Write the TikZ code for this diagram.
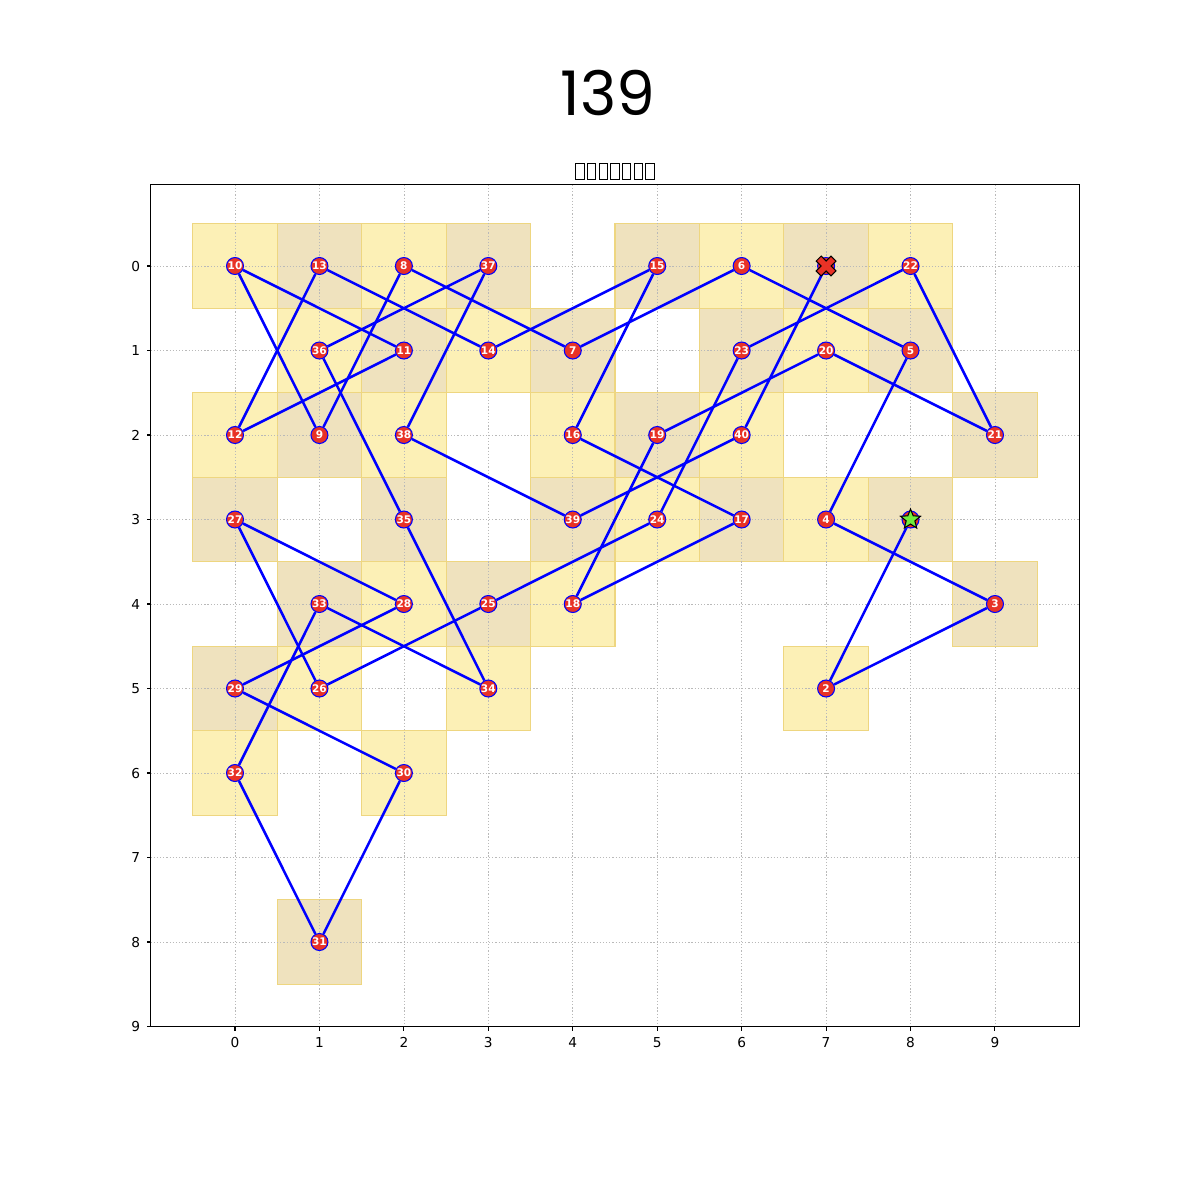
\documentclass[tikz,border=0pt]{standalone}
\usepackage{fontspec}
\setmainfont{DejaVu Sans}
\newfontfamily\titlefont{Poppins}
\usetikzlibrary{shapes.geometric}

\definecolor{cellyellow}{RGB}{252,240,182}
\definecolor{celltan}{RGB}{239,226,190}
\definecolor{celledge}{RGB}{238,214,128}
\definecolor{nodered}{RGB}{232,50,38}
\definecolor{pathblue}{RGB}{0,0,255}
\definecolor{stargreen}{RGB}{112,238,60}

% label/x/y of every square of the tour, in visiting order
\def\tourpts{1/8/3, 2/7/5, 3/9/4, 4/7/3, 5/8/1, 6/6/0, 7/4/1, 8/2/0, 9/1/2, 10/0/0,
  11/2/1, 12/0/2, 13/1/0, 14/3/1, 15/5/0, 16/4/2, 17/6/3, 18/4/4, 19/5/2, 20/7/1,
  21/9/2, 22/8/0, 23/6/1, 24/5/3, 25/3/4, 26/1/5, 27/0/3, 28/2/4, 29/0/5, 30/2/6,
  31/1/8, 32/0/6, 33/1/4, 34/3/5, 35/2/3, 36/1/1, 37/3/0, 38/2/2, 39/4/3, 40/6/2, 41/7/0}

\begin{document}
\begin{tikzpicture}[
  gridline/.style={gray!55, line width=0.18pt, dash pattern=on 0.35pt off 0.55pt},
  tour/.style={pathblue, line width=0.72pt},
  sq/.style={circle, fill=nodered, draw=pathblue, line width=0.3pt, minimum size=0.17cm,
    inner sep=0pt, text=white, font=\fontsize{3.0}{3}\selectfont\bfseries},
  ticklabel/.style={inner sep=0pt, font=\fontsize{3.9}{4}\selectfont}
]
  \useasboundingbox (0,0) rectangle (12,-12);

  \node (title) at (6.08,-0.93) {\titlefont\fontsize{17.5}{18}\selectfont 139};
  % the subtitle prints as empty glyph boxes
  \foreach \k in {0,...,6}
    \draw[line width=0.22pt] (5.755+\k*0.117,-1.635) rectangle ++(0.085,-0.155);

  \begin{scope}[shift={(2.35,-2.66)}, x=0.8444cm, y=-0.845cm]
    % squares
    \foreach \k/\i/\j in \tourpts {
      \pgfmathtruncatemacro\cellodd{mod(\i+\j,2)}
      \ifnum\cellodd=0
        \filldraw[fill=cellyellow, draw=celledge, line width=0.3pt] (\i-0.5,\j-0.5) rectangle (\i+0.5,\j+0.5);
      \else
        \filldraw[fill=celltan, draw=celledge, line width=0.3pt] (\i-0.5,\j-0.5) rectangle (\i+0.5,\j+0.5);
      \fi
    }
    % grid
    \foreach \t in {0,...,9} {
      \draw[gridline] (\t,-0.96) -- (\t,9);
      \draw[gridline] (-1,\t) -- (10,\t);
    }
    % axes
    \draw[line width=0.3pt] (-1,-0.96) rectangle (10,9);
    \foreach \t in {0,...,9} {
      \draw[line width=0.3pt] (\t,9) -- ++(0,-0.04cm) node[ticklabel, anchor=north, below=0.06cm] (xt\t) {\t};
      \draw[line width=0.3pt] (-1,\t) -- ++(-0.04cm,0) node[ticklabel, anchor=east, left=0.06cm] (yt\t) {\t};
    }

    % squares of the tour
    \foreach \k/\i/\j in \tourpts {
      \ifnum\k=1
        \node[sq] (n\k) at (\i,\j) {};
      \else\ifnum\k=41
        \node[sq] (n\k) at (\i,\j) {};
      \else
        \node[sq] (n\k) at (\i,\j) {\k};
      \fi\fi
    }
    \foreach \a [count=\b from 2] in {1,...,40}
      \draw[tour] (n\a) -- (n\b);

    % start and end marks
    \node[star, star points=5, star point ratio=2.3, fill=stargreen, draw=black,
      line width=0.3pt, minimum size=0.21cm, inner sep=0pt] (startmark) at (n1) {};
    \filldraw[fill=nodered, draw=black, line width=0.3pt, shift={(n41)}, rotate=45]
      (0.035cm,0.105cm) -- (0.035cm,0.035cm) -- (0.105cm,0.035cm) -- (0.105cm,-0.035cm)
      -- (0.035cm,-0.035cm) -- (0.035cm,-0.105cm) -- (-0.035cm,-0.105cm) -- (-0.035cm,-0.035cm)
      -- (-0.105cm,-0.035cm) -- (-0.105cm,0.035cm) -- (-0.035cm,0.035cm) -- (-0.035cm,0.105cm) -- cycle;
  \end{scope}
\end{tikzpicture}
\end{document}
